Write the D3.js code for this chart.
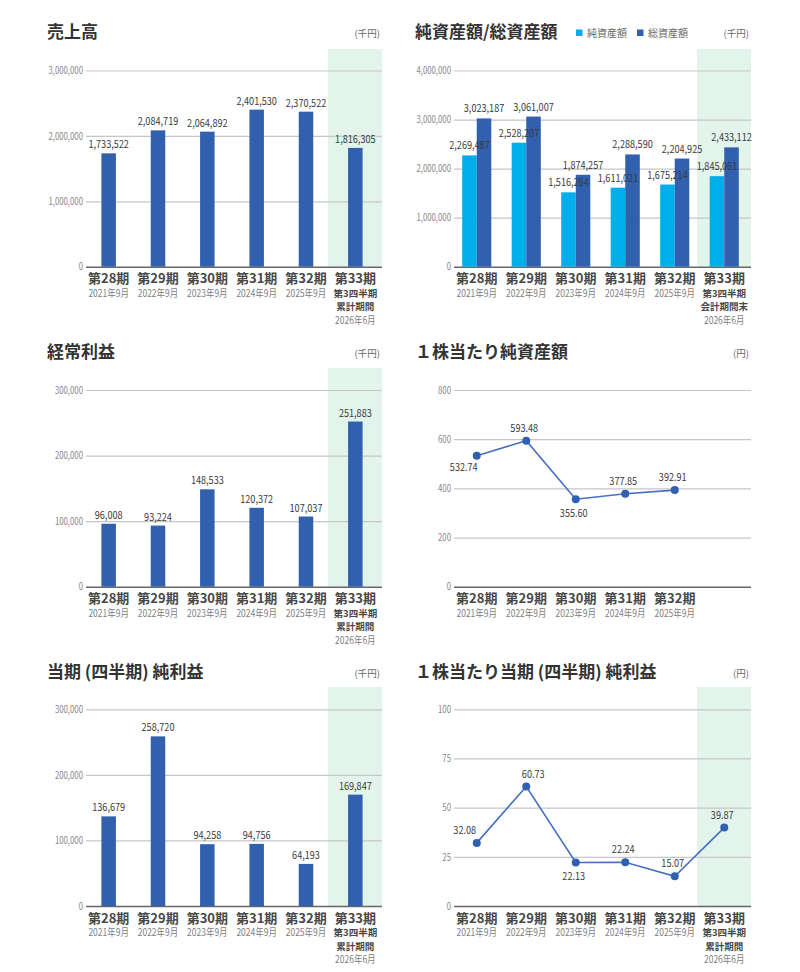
<!DOCTYPE html>
<html lang="ja">
<head>
  <meta charset="utf-8">
  <title>業績推移</title>
  <script src="https://d3js.org/d3.v7.min.js"></script>
  <style>
    html, body { margin: 0; padding: 0; background: #fff; }
    svg { display: block; }
    text { font-family: "Noto Sans CJK JP", sans-serif; }
    .title { font-weight: 700; font-size: 17px; fill: #333; }
    .unit { font-size: 9.5px; fill: #666; }
    .legend { font-size: 10px; fill: #666; }
    .tick text { font-size: 10px; fill: #888; }
    .value { font-size: 11px; fill: #3a3a3a; }
    .period { font-weight: 700; font-size: 13px; fill: #484848; }
    .sub { font-weight: 700; font-size: 9.5px; fill: #484848; }
    .date { font-size: 10px; fill: #808080; }
  </style>
</head>
<body>
  <svg></svg>
  <script>
    // 区分
    const periods = ["第28期", "第29期", "第30期", "第31期", "第32期", "第33期"];
    const periodDates = ["2021年9月", "2022年9月", "2023年9月", "2024年9月", "2025年9月", "2026年6月"];
    const cumulativeNote = ["第3四半期", "累計期間"];
    const periodEndNote = ["第3四半期", "会計期間末"];

    // 数値（千円・円）
    const sales = [1733522, 2084719, 2064892, 2401530, 2370522, 1816305];
    const netAssets = [2269487, 2528207, 1516264, 1611021, 1675214, 1845061];
    const totalAssets = [3023187, 3061007, 1874257, 2288590, 2204925, 2433112];
    const ordinaryIncome = [96008, 93224, 148533, 120372, 107037, 251883];
    const bookValuePerShare = [532.74, 593.48, 355.60, 377.85, 392.91];
    const netIncome = [136679, 258720, 94258, 94756, 64193, 169847];
    const earningsPerShare = [32.08, 60.73, 22.13, 22.24, 15.07, 39.87];

    // 目盛り
    const salesTicks = [0, 1000000, 2000000, 3000000];
    const assetTicks = [0, 1000000, 2000000, 3000000, 4000000];
    const incomeTicks = [0, 100000, 200000, 300000];
    const bpsTicks = [0, 200, 400, 600, 800];
    const epsTicks = [0, 25, 50, 75, 100];

    // 折れ線ラベルの置き方
    const bpsLabelPlace = ["belowLeft", "above", "below", "above", "above"];
    const epsLabelPlace = ["aboveLeft", "aboveRight", "below", "above", "above", "above"];
    const place = {
      above: [-2, -9], aboveRight: [7, -9], aboveLeft: [-12, -9],
      below: [-2, 18], belowLeft: [-13, 15]
    };

    const BAR = "#3160ae", NET = "#00aeea", LINE = "#4470c0", DOT = "#3060b0";
    // 数字は細身の書体に見えるので横方向に詰める
    const NARROW_VAL = 0.83, NARROW_TICK = 0.78, NARROW_DATE = 0.85;
    const svg = d3.select("svg").attr("width", 800).attr("height", 972);

    const cols = [{ left: 86, right: 382, titleX: 47 }, { left: 454, right: 751, titleX: 415 }];
    const rows = [
      { top: 70.5, base: 266.7, bandTop: 49, titleY: 38 },
      { top: 390, base: 586.7, bandTop: 368, titleY: 358 },
      { top: 709.3, base: 906, bandTop: 687, titleY: 678 }
    ];

    const squeeze = (x, y, s) => `translate(${x},${y}) scale(${s},1)`;

    function panel(c, r, o) {
      const g = svg.append("g");
      const x = d3.scaleBand().domain(periods).range([c.left - 2, c.right - 2])
        .paddingInner(o.pad).paddingOuter(o.pad / 2);
      const y = d3.scaleLinear().domain([0, d3.max(o.ticks)]).range([r.base, r.top]);

      g.append("text").attr("class", "title").attr("x", c.titleX).attr("y", r.titleY).text(o.title);
      g.append("text").attr("class", "unit").attr("x", c.right - 2).attr("y", r.titleY - 1)
        .attr("text-anchor", "end").text(o.unit);

      if (o.highlight) {
        g.append("rect").attr("x", c.right - 54).attr("y", r.bandTop)
          .attr("width", 54).attr("height", r.base - r.bandTop).attr("fill", "#e2f4eb");
      }

      const ax = g.append("g").attr("transform", `translate(${c.left},0)`)
        .call(d3.axisLeft(y).tickValues(o.ticks).tickSize(-(c.right - c.left)).tickPadding(3)
          .tickFormat(d3.format(",")));
      ax.select(".domain").remove();
      ax.selectAll(".tick line").attr("stroke", d => d === 0 ? "#666" : "#c6c6c6")
        .attr("stroke-width", d => d === 0 ? 1.6 : 1.2);
      ax.selectAll(".tick text").attr("x", null).attr("transform", squeeze(-3, 0, NARROW_TICK));

      // x 軸ラベル
      const lab = g.append("g").selectAll("g").data(o.labelCount ? periods.slice(0, o.labelCount) : periods)
        .join("g").attr("transform", d => `translate(${x(d) + x.bandwidth() / 2},${r.base})`)
        .attr("text-anchor", "middle");
      lab.append("text").attr("class", "period").attr("y", 16.5).text(d => d);
      lab.each(function (d, i) {
        const s = d3.select(this);
        const notes = i === periods.length - 1 ? o.note : [];
        notes.forEach((t, k) => s.append("text").attr("class", "sub").attr("y", 30 + k * 13.5).text(t));
        s.append("text").attr("class", "date")
          .attr("transform", squeeze(0, 30 + notes.length * 13.5, NARROW_DATE)).text(periodDates[i]);
      });
      return { g, x, y };
    }

    function barPanel(c, r, o) {
      const { g, x, y } = panel(c, r, Object.assign({ pad: 0.706 }, o));
      const fmt = d3.format(",");
      g.append("g").selectAll("rect").data(o.values).join("rect")
        .attr("x", (d, i) => x(periods[i])).attr("width", x.bandwidth())
        .attr("y", d => y(d)).attr("height", d => r.base - y(d)).attr("fill", BAR);
      g.append("g").selectAll("text").data(o.values).join("text").attr("class", "value")
        .attr("text-anchor", "middle")
        .attr("transform", (d, i) => squeeze(x(periods[i]) + x.bandwidth() / 2, y(d) - 5, NARROW_VAL))
        .text(fmt);
    }

    function linePanel(c, r, o) {
      const { g, x, y } = panel(c, r, Object.assign({ pad: 0.706 }, o));
      const cx = (d, i) => x(periods[i]) + x.bandwidth() / 2;
      g.append("path").datum(o.values).attr("fill", "none").attr("stroke", LINE).attr("stroke-width", 1.6)
        .attr("d", d3.line().x(cx).y(d => y(d)));
      g.append("g").selectAll("circle").data(o.values).join("circle")
        .attr("cx", cx).attr("cy", d => y(d)).attr("r", 4).attr("fill", DOT);
      g.append("g").selectAll("text").data(o.values).join("text").attr("class", "value")
        .attr("text-anchor", "middle")
        .attr("transform", (d, i) => squeeze(cx(d, i) + place[o.places[i]][0], y(d) + place[o.places[i]][1], NARROW_VAL))
        .text(d3.format(".2f"));
    }

    // 売上高
    barPanel(cols[0], rows[0], { title: "売上高", unit: "(千円)", ticks: salesTicks, values: sales, highlight: true, note: cumulativeNote });

    // 純資産額/総資産額
    (function () {
      const c = cols[1], r = rows[0];
      const { g, x, y } = panel(c, r, { title: "純資産額/総資産額", unit: "(千円)", ticks: assetTicks, highlight: true, note: periodEndNote, pad: 0.412 });
      const sub = d3.scaleBand().domain(["net", "total"]).range([0, x.bandwidth()]);
      const color = { net: NET, total: BAR };
      const pairs = periods.map((p, i) => [
        { p, key: "net", v: netAssets[i] }, { p, key: "total", v: totalAssets[i] }
      ]).flat();
      g.append("g").selectAll("rect").data(pairs).join("rect")
        .attr("x", d => x(d.p) + sub(d.key)).attr("width", sub.bandwidth())
        .attr("y", d => y(d.v)).attr("height", d => r.base - y(d.v)).attr("fill", d => color[d.key]);
      g.append("g").selectAll("text").data(pairs).join("text").attr("class", "value")
        .attr("text-anchor", "middle")
        .attr("transform", d => squeeze(x(d.p) + sub(d.key) + sub.bandwidth() / 2, y(d.v) - 6, NARROW_VAL))
        .text(d => d3.format(",")(d.v));
      // 凡例
      const lg = g.append("g").attr("transform", `translate(576,${r.titleY - 8})`);
      [["純資産額", NET, 0], ["総資産額", BAR, 61]].forEach(([t, col, dx]) => {
        lg.append("rect").attr("x", dx).attr("y", -0.5).attr("width", 6.5).attr("height", 6.5).attr("fill", col);
        lg.append("text").attr("class", "legend").attr("x", dx + 11).attr("y", 6.5).text(t);
      });
    })();

    // 経常利益
    barPanel(cols[0], rows[1], { title: "経常利益", unit: "(千円)", ticks: incomeTicks, values: ordinaryIncome, highlight: true, note: cumulativeNote });

    // １株当たり純資産額
    linePanel(cols[1], rows[1], { title: "１株当たり純資産額", unit: "(円)", ticks: bpsTicks, values: bookValuePerShare, places: bpsLabelPlace, labelCount: 5, note: [] });

    // 当期(四半期)純利益
    barPanel(cols[0], rows[2], { title: "当期 (四半期) 純利益", unit: "(千円)", ticks: incomeTicks, values: netIncome, highlight: true, note: cumulativeNote });

    // １株当たり当期(四半期)純利益
    linePanel(cols[1], rows[2], { title: "１株当たり当期 (四半期) 純利益", unit: "(円)", ticks: epsTicks, values: earningsPerShare, places: epsLabelPlace, highlight: true, note: cumulativeNote });
  </script>
</body>
</html>
